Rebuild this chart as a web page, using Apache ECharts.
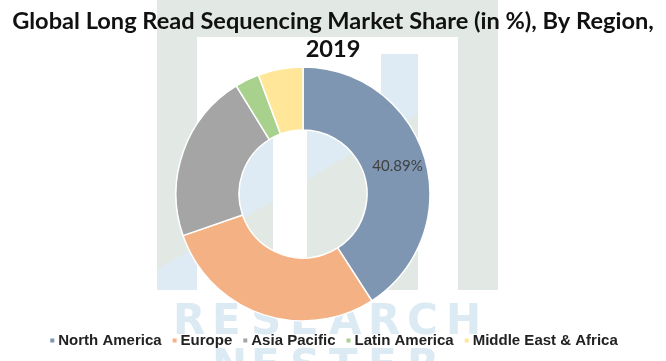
<!DOCTYPE html>
<html><head><meta charset="utf-8">
<script src="https://cdn.jsdelivr.net/npm/echarts@6/dist/echarts.min.js"></script>
<style>html,body{margin:0;padding:0;background:#fff}#c{width:666px;height:361px}</style>
</head><body><div id="c"></div>
<script>
const regions = ['North America', 'Europe', 'Asia Pacific', 'Latin America', 'Middle East & Africa'];
const shares = [40.89, 28.8, 21.5, 3.1, 5.71];
const colors = ['#7f96b2', '#f4b183', '#a5a5a5', '#a9d18e', '#ffe699'];
const titleText = 'Global Long Read Sequencing Market Share (in %), By Region,\n2019';

// faint watermark decoration (logo + text)
const GREEN = '#e2e9e4', BLUE = '#deebf4';
const diagY = x => 270 - 0.6 * (x - 157);
function col(x0, x1, y0, y1, topColor, botColor) {
  return [
    {type: 'rect', z: -9, silent: true, shape: {x: x0, y: y0, width: x1 - x0, height: y1 - y0}, style: {fill: topColor}},
    {type: 'polygon', z: -8, silent: true, shape: {points: [[x0, Math.max(y0, diagY(x0))], [x1, Math.max(y0, diagY(x1))], [x1, y1], [x0, y1]]}, style: {fill: botColor}}
  ];
}
const wm = [
  {type: 'rect', z: -10, silent: true, shape: {x: 157, y: 0, width: 341, height: 37}, style: {fill: GREEN}},
  {type: 'rect', z: -10, silent: true, shape: {x: 458, y: 0, width: 40, height: 290}, style: {fill: GREEN}},
  ...col(157, 197, 37, 290, GREEN, BLUE),
  ...col(240, 273, 110, 290, BLUE, GREEN),
  ...col(307, 381, 110, 290, BLUE, GREEN),
  ...col(381, 418, 54, 290, BLUE, GREEN)
];
'RESEARCH'.split('').forEach((ch, i) => wm.push({type: 'text', z: -6, silent: true, x: 173 + i * 39, y: 302,
  style: {text: ch, fill: '#dceaf4', font: 'bold 42px "DejaVu Sans"'}}));
'NESTER'.split('').forEach((ch, i) => wm.push({type: 'text', z: -6, silent: true, x: 212 + i * 39, y: 347,
  style: {text: ch, fill: '#dceaf4', font: 'bold 42px "DejaVu Sans"'}}));

const chart = echarts.init(document.getElementById('c'), null, {renderer: 'canvas'});
chart.setOption({
  backgroundColor: '#ffffff',
  animation: false,
  graphic: wm,
  title: {
    text: titleText,
    left: 'center',
    top: 2,
    textStyle: {fontFamily: 'Lato', fontWeight: 'bold', fontSize: 23.6, color: '#111', lineHeight: 28}
  },
  legend: {
    bottom: 8,
    left: 'center',
    icon: 'rect',
    itemWidth: 6,
    itemHeight: 6,
    itemGap: 9,
    textStyle: {fontFamily: 'Liberation Sans', fontWeight: 'bold', fontSize: 15, color: '#222', padding: [0, 0, 0, -2]},
    data: regions
  },
  series: [{
    type: 'pie',
    center: [303, 194],
    radius: [64, 127],
    startAngle: 90,
    clockwise: true,
    avoidLabelOverlap: false,
    itemStyle: {borderColor: '#ffffff', borderWidth: 1.5},
    label: {show: false},
    labelLine: {show: false},
    data: regions.map((r, i) => ({
      name: r,
      value: shares[i],
      itemStyle: {color: colors[i]},
      label: i === 0 ? {show: true, position: 'inside', formatter: v => v.value.toFixed(2) + '%', fontFamily: 'Lato', fontSize: 15, color: '#404040'} : {show: false}
    }))
  }]
});
</script></body></html>
